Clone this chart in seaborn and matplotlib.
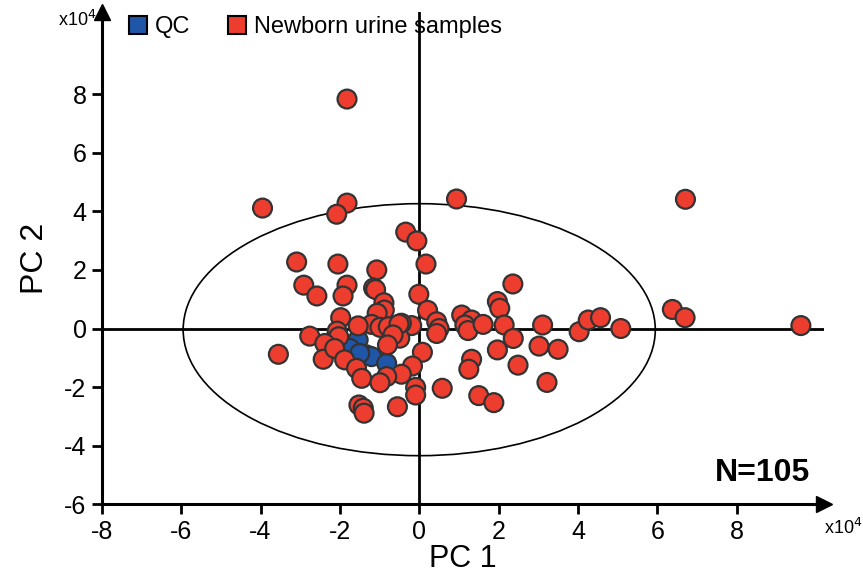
import numpy as np
import pandas as pd
import matplotlib
matplotlib.use("Agg")
import matplotlib.pyplot as plt
from matplotlib.patches import Ellipse
from matplotlib.lines import Line2D
import seaborn as sns

sns.set_theme(style="white")
plt.rcParams['font.family'] = ['Liberation Sans', 'DejaVu Sans']
plt.rcParams['axes.unicode_minus'] = False
plt.rcParams['text.color'] = 'black'
plt.rcParams['axes.labelcolor'] = 'black'
plt.rcParams['xtick.color'] = 'black'
plt.rcParams['ytick.color'] = 'black'

# PC scores (x10^4)
red_pc1 = [-1.82, -3.95, -1.82, -2.08, 0.94, 6.71, -0.34, -0.06, -3.09, -2.05,
           0.17, -1.07, -2.91, -2.58, -1.82, -1.92, -1.15, -1.10, 2.36, -0.01,
           -0.89, -0.88, 0.21, 1.97, 2.03, 1.07, 1.32, 1.15, 1.23, 1.61,
           2.14, 2.37, 0.44, 0.50, 0.44, -0.19, -0.45, -0.49, 3.11, 4.03,
           4.26, 4.57, 5.08, 6.38, 6.70, 9.62, 0.08, -0.17, -0.45, -0.09,
           -0.09, 0.58, 1.32, 1.25, 1.97, 3.02, 3.50, 2.49, 3.22, 1.50,
           1.88, -0.55, -1.98, -1.06, -1.20, -1.54, -0.99, -0.78, -0.51, -0.66,
           -2.07, -2.76, -2.03, -2.38, -3.55, -2.42, -2.13, -1.88, -1.58, -1.45,
           -0.80, -0.82, -0.99, -1.52, -1.41, -1.39]
red_pc2 = [7.83, 4.11, 4.28, 3.90, 4.42, 4.41, 3.29, 2.99, 2.27, 2.20,
           2.20, 2.00, 1.48, 1.11, 1.48, 1.11, 1.38, 1.33, 1.52, 1.17,
           0.88, 0.63, 0.62, 0.92, 0.69, 0.46, 0.29, 0.12, -0.07, 0.14,
           0.12, -0.34, 0.23, 0.00, -0.17, 0.10, 0.18, -0.33, 0.12, -0.11,
           0.29, 0.37, 0.00, 0.65, 0.37, 0.10, -0.81, -1.28, -1.56, -2.01,
           -2.27, -2.04, -1.05, -1.39, -0.73, -0.60, -0.71, -1.25, -1.84, -2.29,
           -2.53, -2.67, 0.37, 0.52, 0.14, 0.09, 0.04, 0.06, 0.15, -0.22,
           -0.09, -0.26, -0.28, -0.51, -0.88, -1.05, -0.68, -1.07, -1.36, -1.70,
           -0.56, -1.64, -1.85, -2.61, -2.72, -2.89]
qc_pc1 = [-1.54, -1.75, -1.33, -1.20, -0.82, -1.50]
qc_pc2 = [-0.39, -0.68, -0.90, -0.96, -1.19, -0.85]

groups = ["QC", "Newborn urine samples"]
colors = {"QC": "#1f56a8", "Newborn urine samples": "#ec3d2f"}

df = pd.DataFrame({
    "PC1": qc_pc1 + red_pc1,
    "PC2": qc_pc2 + red_pc2,
    "group": ["QC"] * len(qc_pc1) + ["Newborn urine samples"] * len(red_pc1),
})

fig = plt.figure(figsize=(8.63, 5.74), dpi=100)
ax = fig.add_axes([0.118, 0.1214, 0.9547 - 0.118, 0.979 - 0.1214])

sns.scatterplot(data=df, x="PC1", y="PC2", hue="group", hue_order=groups,
                palette=colors, s=185, edgecolor="#333333", linewidth=1.6,
                legend=False, ax=ax, zorder=3)

ax.set_xlim(-8, 10.2)
ax.set_ylim(-6, 10.8)

ax.axhline(0, color="black", lw=2, zorder=1)
ax.axvline(0, color="black", lw=2, zorder=1)
ax.add_patch(Ellipse((0, -0.04), 11.9, 8.6, fill=False, ec="black", lw=1.2, zorder=2))

for s in ["top", "right"]:
    ax.spines[s].set_visible(False)
for s in ["left", "bottom"]:
    ax.spines[s].set_color("black")
    ax.spines[s].set_linewidth(2.2)

ax.plot(1, 0, marker=">", color="black", markersize=11, transform=ax.transAxes, clip_on=False)
ax.plot(0, 1, marker="^", color="black", markersize=11, transform=ax.transAxes, clip_on=False)

ax.set_xticks(range(-8, 9, 2))
ax.set_yticks(range(-6, 9, 2))
ax.tick_params(axis="both", direction="out", length=7, width=2, color="black",
               labelsize=18, pad=4, bottom=True, left=True)
ax.set_xlabel("PC 1", fontsize=22, labelpad=0)
ax.set_ylabel("PC 2", fontsize=23, labelpad=10)

fig.text(0.067, 0.965, "x10$^4$", fontsize=13, ha="left", va="center")
fig.text(0.955, 0.080, "x10$^4$", fontsize=13, ha="left", va="center")
ax.text(9.85, -4.93, "N=105", fontsize=23, fontweight="bold", ha="right", va="center")

handles = [Line2D([], [], marker="s", linestyle="none", markersize=13,
                  markerfacecolor=colors[g], markeredgecolor="black",
                  markeredgewidth=1.5, label=g) for g in groups]
fig.legend(handles=handles, loc="center left", bbox_to_anchor=(0.122, 0.953),
           ncol=2, frameon=False, handletextpad=0.2, columnspacing=1.5,
           handlelength=1.0, prop={'size': 17})

fig.savefig("out.png", dpi=100)
